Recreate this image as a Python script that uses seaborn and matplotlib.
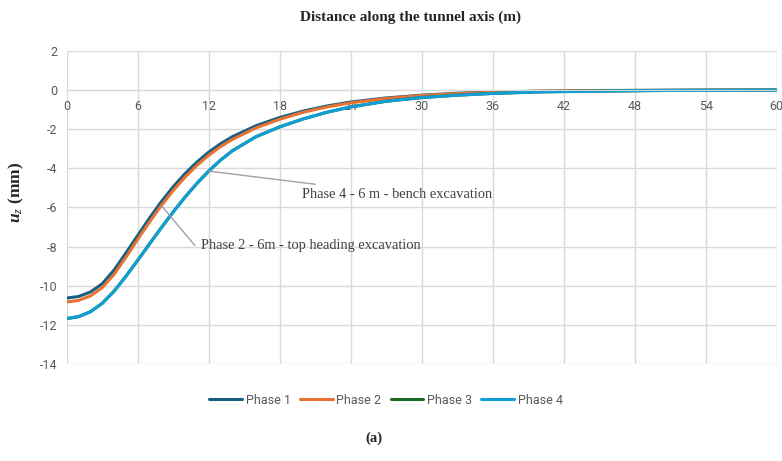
import pandas as pd
import matplotlib
matplotlib.use("Agg")
import matplotlib.pyplot as plt
import seaborn as sns

# --- dati ---
distanza = [0, 1, 2, 3, 4, 5, 6, 7, 8, 9, 10, 11, 12, 13, 14, 16, 18, 20, 22, 24,
            27, 30, 33, 36, 40, 45, 50, 55, 60]
fase_1 = [-10.63, -10.55, -10.32, -9.9, -9.2, -8.33, -7.43, -6.54, -5.7, -4.94, -4.27,
          -3.68, -3.17, -2.74, -2.38, -1.82, -1.4, -1.07, -0.81, -0.61, -0.4, -0.26,
          -0.16, -0.1, -0.05, -0.02, -0.01, 0.0, 0.0]
fase_2 = [-10.83, -10.75, -10.52, -10.1, -9.42, -8.55, -7.63, -6.74, -5.9, -5.13, -4.45,
          -3.85, -3.33, -2.89, -2.52, -1.93, -1.49, -1.13, -0.86, -0.65, -0.43, -0.28,
          -0.18, -0.11, -0.06, -0.03, -0.01, 0.0, 0.0]
fase_3 = [-11.68, -11.58, -11.33, -10.9, -10.28, -9.52, -8.7, -7.86, -7.03, -6.23, -5.47,
          -4.77, -4.14, -3.58, -3.1, -2.38, -1.88, -1.47, -1.13, -0.86, -0.57, -0.38,
          -0.26, -0.17, -0.09, -0.05, -0.02, -0.01, 0.0]
fase_4 = [-11.68, -11.58, -11.33, -10.9, -10.28, -9.52, -8.7, -7.86, -7.03, -6.23, -5.47,
          -4.77, -4.14, -3.58, -3.1, -2.38, -1.88, -1.47, -1.13, -0.86, -0.57, -0.38,
          -0.26, -0.17, -0.09, -0.05, -0.02, -0.01, 0.0]
nomi_fasi = ["Phase 1", "Phase 2", "Phase 3", "Phase 4"]
colori = ["#156082", "#E97132", "#196B24", "#0F9ED5"]
x_ticks = list(range(0, 61, 6))
y_ticks = list(range(-14, 3, 2))

# formato lungo per seaborn
righe = []
for nome, valori in zip(nomi_fasi, [fase_1, fase_2, fase_3, fase_4]):
    for x, y in zip(distanza, valori):
        righe.append({"Distanza": x, "uz": y, "Fase": nome})
df = pd.DataFrame(righe)

sns.set_style("white")
plt.rcParams["font.family"] = ["Roboto", "DejaVu Sans"]
plt.rcParams["axes.unicode_minus"] = False
plt.rcParams["mathtext.fontset"] = "custom"
plt.rcParams["mathtext.bfit"] = "Liberation Serif:bold:italic"
plt.rcParams["mathtext.it"] = "Liberation Serif:italic"
plt.rcParams["mathtext.rm"] = "Liberation Serif"

fig = plt.figure(figsize=(7.82, 4.61), dpi=100)
ax = fig.add_axes([0.0853, 0.2104, 0.9079, 0.679])

sns.lineplot(data=df, x="Distanza", y="uz", hue="Fase", palette=colori,
             linewidth=2.2, sort=False, legend=False, ax=ax)

grigio = "#D9D9D9"
ax.set_xlim(0, 60)
ax.set_ylim(-14, 2)
ax.set_xticks(x_ticks)
ax.set_yticks(y_ticks)
ax.grid(True, color=grigio, linewidth=1)
ax.set_axisbelow(True)
for lato in ["top", "right", "left"]:
    ax.spines[lato].set_visible(False)
ax.spines["bottom"].set_position(("data", 0))
ax.spines["bottom"].set_color(grigio)
ax.tick_params(length=0, labelsize=9, colors="#595959", pad=7)
ax.set_xlabel("")
ax.set_ylabel("")

# annotazioni con linea guida
ax.annotate("Phase 4 - 6 m - bench excavation", xy=(distanza[12], fase_4[12]),
            xytext=(19.9, -5.33), va="center", ha="left", fontsize=10.4,
            family="Liberation Serif", color="#404040",
            arrowprops=dict(arrowstyle="-", color="#A0A0A0", lw=1, shrinkA=2, shrinkB=0))
ax.annotate("Phase 2 - 6m - top heading excavation", xy=(distanza[8], fase_2[8]),
            xytext=(11.35, -7.92), va="center", ha="left", fontsize=10.4,
            family="Liberation Serif", color="#404040",
            arrowprops=dict(arrowstyle="-", color="#A0A0A0", lw=1, shrinkA=2, shrinkB=0,
                            connectionstyle="angle,angleA=0,angleB=-50,rad=0"))

fig.text(410 / 782, 1 - 17 / 461, "Distance along the tunnel axis (m)", ha="center",
         va="center", fontsize=11, fontweight="bold", family="Liberation Serif")
fig.text(16 / 782, 1 - 192 / 461, r"$\mathbfit{u}_{z}$ (mm)", rotation=90, ha="center",
         va="center", fontsize=12.5, fontweight="bold", family="Liberation Serif")
fig.text(374 / 782, 1 - 438 / 461, "(a)", ha="center", va="center", fontsize=10.5,
         fontweight="bold", family="Liberation Serif")

maniglie = [plt.Line2D([0], [0], color=c, lw=2.2) for c in colori]
fig.legend(maniglie, nomi_fasi, loc="center", bbox_to_anchor=(386 / 782, 1 - 400 / 461),
           ncol=4, frameon=False, fontsize=9, handlelength=2.6, handletextpad=0.3,
           columnspacing=0.75, labelcolor="#595959")

fig.savefig("out.png", dpi=100)
